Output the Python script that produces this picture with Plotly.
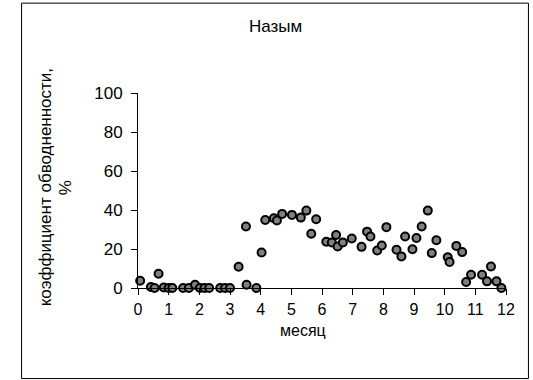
import plotly.graph_objects as go

# month (x) and water-cut coefficient, % (y)
months = [0.07, 0.42, 0.54, 0.67, 0.84, 1.0, 1.12, 1.47, 1.66, 1.86, 2.02, 2.17, 2.32,
          2.68, 2.84, 3.0, 3.28, 3.52, 3.54, 3.86, 4.03, 4.15, 4.43, 4.53, 4.70,
          5.02, 5.31, 5.49, 5.65, 5.81, 6.14, 6.32, 6.46, 6.51, 6.68, 6.97, 7.29,
          7.47, 7.58, 7.80, 7.95, 8.10, 8.43, 8.59, 8.71, 8.95, 9.08, 9.25, 9.45,
          9.58, 9.73, 10.10, 10.16, 10.38, 10.57, 10.70, 10.86, 11.22, 11.38, 11.51,
          11.69, 11.85]
watercut = [3.7, 0.5, 0.0, 7.3, 0.3, 0.0, 0.0, 0.0, 0.0, 1.7, 0.0, 0.0, 0.0,
            0.0, 0.0, 0.0, 10.9, 31.5, 1.7, 0.0, 18.2, 34.9, 35.8, 34.6, 38.0,
            37.5, 36.1, 39.7, 27.8, 35.3, 23.7, 23.3, 27.2, 21.3, 23.3, 25.4, 21.1,
            28.9, 26.4, 19.2, 21.8, 31.2, 19.6, 16.2, 26.4, 19.9, 25.6, 31.5, 39.7,
            17.9, 24.5, 15.8, 13.3, 21.6, 18.4, 3.1, 6.8, 6.8, 3.4, 11.0,
            3.4, 0.0]

title_text = "Назым"
x_title = "месяц"
y_title_line1 = "коэффициент обводненности,"
y_title_line2 = "%"
x_ticks = list(range(0, 13))
y_ticks = [0, 20, 40, 60, 80, 100]

FONT = "Liberation Sans, Arial, sans-serif"
FS = 17
W, H = 533, 380
L, R = 137.7, 506.5   # plot area in pixels
T, B = 93.0, 288.3
pw, ph = R - L, B - T

def px_x(p):
    return (p - L) / pw

def px_y(p):
    return (B - p) / ph

fig = go.Figure()
fig.add_trace(go.Scatter(
    x=months, y=watercut, mode="markers",
    marker=dict(size=8, color="#808080", line=dict(color="#000000", width=2)),
    cliponaxis=False, showlegend=False, hoverinfo="x+y",
))

axis_common = dict(
    showgrid=False, zeroline=False, showline=True, linecolor="#000000", linewidth=1,
    ticks="outside", ticklen=6, tickwidth=1, tickcolor="#000000", fixedrange=True,
)
fig.update_xaxes(range=[0, 12], tickmode="array", tickvals=x_ticks, ticklabelstandoff=1,
                 tickfont=dict(family=FONT, size=16, color="#000000"), **axis_common)
fig.update_yaxes(range=[0, 100], tickmode="array", tickvals=y_ticks, ticklabelstandoff=5,
                 tickfont=dict(family=FONT, size=FS, color="#000000"), **axis_common)

txt = dict(family=FONT, size=FS, color="#000000")
fig.update_layout(
    width=W, height=H,
    margin=dict(l=L, r=W - R, t=T, b=H - B, pad=0),
    paper_bgcolor="#ffffff", plot_bgcolor="#ffffff",
    font=txt,
    shapes=[dict(type="rect", xref="paper", yref="paper",
                 x0=px_x(21), x1=px_x(529), y0=px_y(379), y1=px_y(3),
                 line=dict(color="#000000", width=1), fillcolor="rgba(0,0,0,0)", layer="below")],
    annotations=[
        dict(text=title_text, xref="paper", yref="paper", x=px_x(275.5), y=px_y(26),
             showarrow=False, xanchor="center", yanchor="middle", font=txt),
        dict(text=x_title, xref="paper", yref="paper", x=px_x(303), y=px_y(331),
             showarrow=False, xanchor="center", yanchor="middle",
             font=dict(family=FONT, size=16, color="#000000")),
        dict(text=y_title_line1, xref="paper", yref="paper", x=px_x(45), y=px_y(188),
             showarrow=False, xanchor="center", yanchor="middle", textangle=-90, font=txt),
        dict(text=y_title_line2, xref="paper", yref="paper", x=px_x(65), y=px_y(188),
             showarrow=False, xanchor="center", yanchor="middle", textangle=-90, font=txt),
    ],
)

fig.write_html("out.html", config={"displayModeBar": False},
               post_script="document.body.style.margin='0';")
